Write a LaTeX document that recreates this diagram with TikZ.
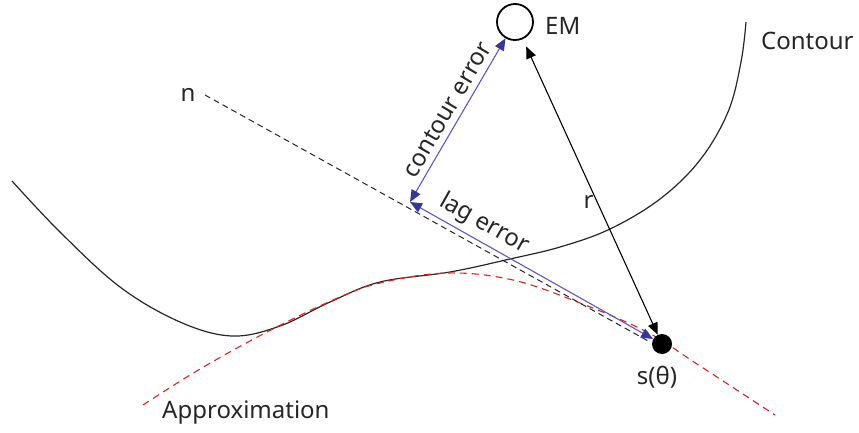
\documentclass[tikz,border=0pt]{standalone}
\usepackage{fontspec}
\setmainfont{Noto Sans}
\usetikzlibrary{arrows.meta}
\definecolor{errline}{RGB}{95,85,195}
\definecolor{errtip}{RGB}{55,55,150}
\definecolor{apprx}{RGB}{230,30,30}
\tikzset{
  lbl/.style={font=\fontsize{24}{28}\selectfont, text=black!85, inner sep=1pt},
  errarrow/.style={draw=errline, line width=1.1pt, {Triangle[length=12pt,width=10pt,color=errtip]}-{Triangle[length=12pt,width=10pt,color=errtip]}},
  rarrow/.style={draw=black, line width=1.1pt, {Triangle[length=12pt,width=10pt]}-{Triangle[length=12pt,width=10pt]}},
}
\begin{document}
\begin{tikzpicture}[x=1pt,y=-1pt]
\useasboundingbox (0,0) rectangle (859,433);
% contour
\draw[line width=1.2pt, black!85] plot[smooth, tension=0.6] coordinates {(12,181) (60,232) (120,287) (180,322) (232,336) (280,326) (330,302) (380,282) (450,272) (510,259) (560,247) (610,229) (660,199) (700,160) (728,112) (741,62) (746,22)};
% approximation
\draw[apprx, line width=1.1pt, dash pattern=on 7pt off 5pt] plot[smooth, tension=0.6] coordinates {(143,405) (200,369) (267,332) (333,300) (380,283) (447,273) (513,280) (580,303) (647,332) (697,364) (775,415)};
% nodes
\node[circle, draw, line width=1.8pt, minimum size=36pt, inner sep=0pt, fill=white] (EM) at (515,22) {};
\node[lbl, anchor=base west] (EMl) at (544,35) {EM};
\node[circle, fill=black, minimum size=20pt, inner sep=0pt] (s) at (662,344) {};
\node[lbl, anchor=base] (sl) at (657,384) {s(θ)};
\node[lbl, anchor=base] (nl) at (188,102) {n};
\node[lbl, anchor=base west] (cl) at (760,50) {Contour};
\node[lbl, anchor=base west] (al) at (161,418) {Approximation};
\coordinate (n1) at (205,95);
\coordinate (n2) at (650,342);
\coordinate (F) at (410,202);
% normal line
\draw[black!85, line width=1pt, dash pattern=on 6pt off 4pt] (n1) -- (n2);
% errors
\draw[errarrow] (F) -- node[lbl, sloped, above=5pt, pos=0.52] {contour error} (EM);
\draw[errarrow] (F) -- node[lbl, sloped, above=4pt, pos=0.27] {lag error} (s);
% r
\draw[rarrow, shorten <=8pt] (EM) -- node[lbl, pos=0.55, left=2pt] {r} (s);
\end{tikzpicture}
\end{document}
